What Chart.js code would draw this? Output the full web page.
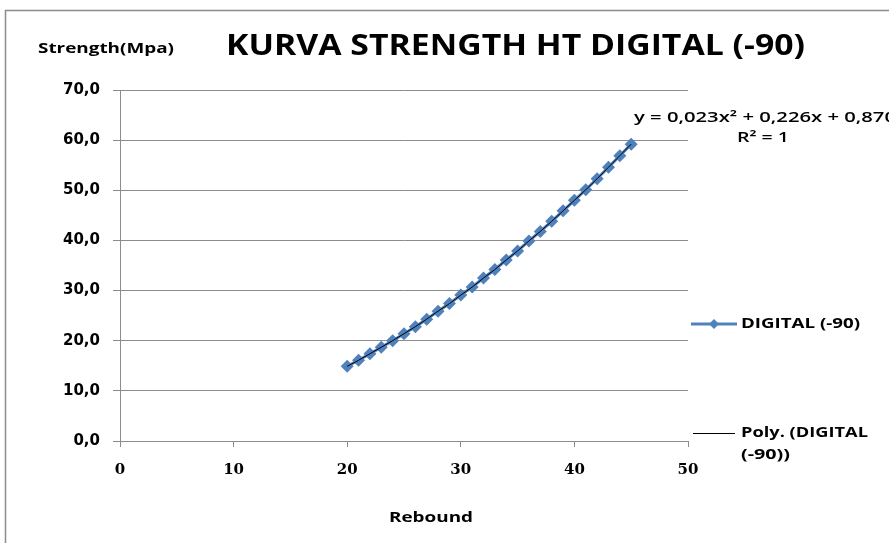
<!DOCTYPE html>
<html>
<head>
<meta charset="utf-8">
<script src="https://cdn.jsdelivr.net/npm/chart.js@4"></script>
<style>
  body { margin: 0; background: #fff; }
</style>
</head>
<body>
<canvas id="myChart" width="889" height="543"></canvas>
<script>
// rebound numbers and strength
var rebound = [20, 21, 22, 23, 24, 25, 26, 27, 28, 29, 30, 31, 32, 33, 34, 35, 36, 37, 38, 39, 40, 41, 42, 43, 44, 45];
var strength = [14.9, 16.1, 17.4, 18.7, 20.0, 21.4, 22.8, 24.3, 25.9, 27.4, 29.1, 30.7, 32.5, 34.2, 36.1, 37.9, 39.9, 41.8, 43.8, 45.9, 48.0, 50.1, 52.3, 54.6, 56.9, 59.2];
var xTicks = [0, 10, 20, 30, 40, 50];
var yTicks = [0, 10, 20, 30, 40, 50, 60, 70];

var seriesName = 'DIGITAL (-90)';
var trendName = ['Poly. (DIGITAL', '(-90))'];
var equation = 'y = 0,023x\u00B2 + 0,226x + 0,870';
var rSquared = 'R\u00B2 = 1';

var points = rebound.map(function (r, i) { return {x: r, y: strength[i]}; });

// the original text is stretched wide, so squeeze/stretch to a width
function wideText(c, text, left, y, width) {
  var w = c.measureText(text).width;
  c.save();
  c.translate(left, y);
  c.scale(width / w, 1);
  c.textAlign = 'left';
  c.fillText(text, 0, 0);
  c.restore();
}

var extras = {
  id: 'extras',
  afterDraw: function (chart) {
    var c = chart.ctx;
    c.save();
    // outer frame
    c.strokeStyle = '#8c8c8c';
    c.lineWidth = 1.5;
    c.beginPath();
    c.moveTo(5.5, 543);
    c.lineTo(5.5, 10.5);
    c.lineTo(889, 10.5);
    c.stroke();

    c.fillStyle = '#000';
    c.textBaseline = 'middle';
    c.font = 'bold 29px "Open Sans"';
    wideText(c, 'KURVA STRENGTH HT DIGITAL (-90)', 226, 47, 579);

    c.font = 'bold 14px "Open Sans"';
    wideText(c, 'Strength(Mpa)', 38, 49, 136);
    wideText(c, 'Rebound', 389, 518, 84);

    // equation
    c.font = '600 15px "Open Sans"';
    wideText(c, equation, 634, 118, 262);
    wideText(c, rSquared, 737, 138, 52);

    // legend
    c.strokeStyle = '#4F81BD';
    c.lineWidth = 3;
    c.beginPath();
    c.moveTo(691, 324);
    c.lineTo(737, 324);
    c.stroke();
    c.fillStyle = '#4F81BD';
    c.beginPath();
    c.moveTo(714, 319); c.lineTo(719, 324); c.lineTo(714, 329); c.lineTo(709, 324);
    c.closePath();
    c.fill();
    c.strokeStyle = '#000';
    c.lineWidth = 1;
    c.beginPath();
    c.moveTo(693, 433.5);
    c.lineTo(735, 433.5);
    c.stroke();
    c.fillStyle = '#000';
    c.font = 'bold 14px "Open Sans"';
    wideText(c, seriesName, 741, 324, 119);
    wideText(c, trendName[0], 741, 433, 127);
    wideText(c, trendName[1], 741, 455, 49);
    c.restore();
  }
};

var ctx = document.getElementById('myChart').getContext('2d');
var myChart = new Chart(ctx, {
  type: 'scatter',
  data: {
    datasets: [{
      data: points,
      label: seriesName,
      showLine: true,
      borderColor: '#4F81BD',
      backgroundColor: '#4F81BD',
      borderWidth: 3,
      pointStyle: 'rectRot',
      pointRadius: 6.5,
      pointBorderWidth: 0,
      order: 2
    }, {
      data: points,
      label: 'Poly. (DIGITAL (-90))',
      showLine: true,
      borderColor: '#000000',
      borderWidth: 1,
      pointRadius: 0,
      cubicInterpolationMode: 'monotone',
      order: 1
    }]
  },
  options: {
    responsive: false,
    animation: false,
    layout: { padding: { left: 5, right: 201, top: 90, bottom: 0 } },
    plugins: {
      legend: { display: false },
      tooltip: { enabled: false }
    },
    scales: {
      x: {
        type: 'linear',
        min: 0,
        max: 50,
        afterFit: function (s) { s.height = 102; },
        afterBuildTicks: function (s) { s.ticks = xTicks.map(function (v) { return {value: v}; }); },
        grid: { display: true, drawOnChartArea: false, drawTicks: true, tickLength: 6, color: '#8c8c8c' },
        border: { color: '#8c8c8c', width: 1 },
        ticks: {
          padding: 14,
          color: '#000',
          font: { family: 'DejaVu Serif', weight: 'bold', size: 15 }
        }
      },
      y: {
        min: 0,
        max: 70,
        afterFit: function (s) { s.width = 115; },
        afterBuildTicks: function (s) { s.ticks = yTicks.map(function (v) { return {value: v}; }); },
        grid: { color: '#8c8c8c', tickLength: 7, lineWidth: 1 },
        border: { color: '#8c8c8c', width: 1 },
        ticks: {
          padding: 13,
          color: '#000',
          font: { family: 'DejaVu Sans', weight: 'bold', size: 15 },
          callback: function (v) { return v.toFixed(1).replace('.', ','); }
        }
      }
    }
  },
  plugins: [extras]
});
</script>
</body>
</html>
